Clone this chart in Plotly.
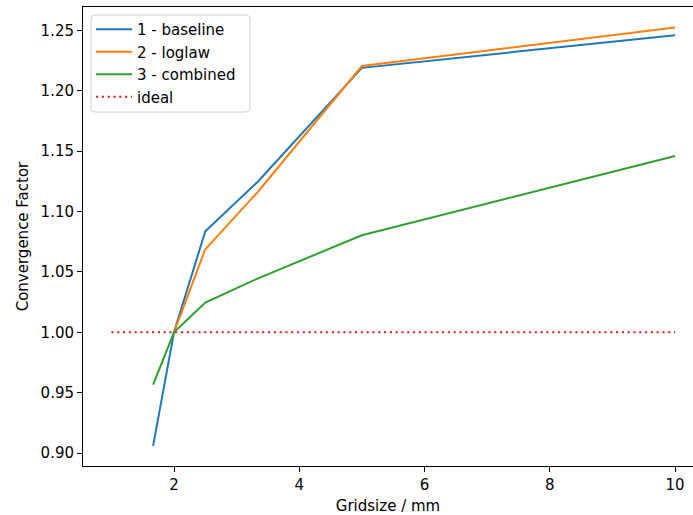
import plotly.graph_objects as go

# Data
grid_baseline = [1.6667, 2.0, 2.5, 3.3333, 5.0, 10.0]
cf_baseline = [0.906, 1.0, 1.0837, 1.1245, 1.219, 1.2461]

grid_loglaw = [2.0, 2.5, 3.3333, 5.0, 10.0]
cf_loglaw = [1.0, 1.0688, 1.116, 1.2205, 1.2525]

grid_combined = [1.6667, 2.0, 2.5, 3.3333, 5.0, 10.0]
cf_combined = [0.9566, 1.0, 1.0247, 1.0445, 1.0804, 1.146]

grid_ideal = [1.0, 10.0]
cf_ideal = [1.0, 1.0]

names = ["1 - baseline", "2 - loglaw", "3 - combined", "ideal"]
colors = ["#1f77b4", "#ff7f0e", "#2ca02c", "#d62728"]

y_ticks = [0.90, 0.95, 1.00, 1.05, 1.10, 1.15, 1.20, 1.25]
x_ticks = [2, 4, 6, 8, 10]

FONT = "DejaVu Sans"
FS = 15

# plot area geometry (pixels)
PL, PT, PW, PH = 83, 7, 610, 459


def px_x(p):
    return (p - PL) / PW


def px_y(p):
    return (PT + PH - p) / PH


fig = go.Figure()
series = [
    (grid_baseline, cf_baseline, "solid"),
    (grid_loglaw, cf_loglaw, "solid"),
    (grid_combined, cf_combined, "solid"),
    (grid_ideal, cf_ideal, "2.2px,3.6px"),
]
for i, ((xs, ys, dash), name, c) in enumerate(zip(series, names, colors)):
    fig.add_trace(go.Scatter(
        x=xs, y=ys, mode="lines", name=name, legendgroup=f"g{i}",
        line=dict(color=c, width=2, dash=dash),
    ))

# legend frame (rounded box like matplotlib)
x0, x1, y0, y1, r = 91, 250, 15, 112, 4
path = (
    f"M {px_x(x0 + r)},{px_y(y0)} L {px_x(x1 - r)},{px_y(y0)} "
    f"Q {px_x(x1)},{px_y(y0)} {px_x(x1)},{px_y(y0 + r)} "
    f"L {px_x(x1)},{px_y(y1 - r)} Q {px_x(x1)},{px_y(y1)} {px_x(x1 - r)},{px_y(y1)} "
    f"L {px_x(x0 + r)},{px_y(y1)} Q {px_x(x0)},{px_y(y1)} {px_x(x0)},{px_y(y1 - r)} "
    f"L {px_x(x0)},{px_y(y0 + r)} Q {px_x(x0)},{px_y(y0)} {px_x(x0 + r)},{px_y(y0)} Z"
)
fig.add_shape(type="path", path=path, xref="paper", yref="paper", layer="above",
              fillcolor="rgba(255,255,255,0.8)", line=dict(color="#d0d0d0", width=1))

fig.update_layout(
    width=693, height=515,
    margin=dict(l=PL, r=0, t=PT, b=515 - PT - PH),
    paper_bgcolor="white", plot_bgcolor="white",
    font=dict(family=FONT, size=FS, color="black"),
    showlegend=True,
    legend=dict(
        x=px_x(91), y=px_y(13), xanchor="left", yanchor="top",
        bgcolor="rgba(0,0,0,0)", borderwidth=0,
        font=dict(family=FONT, size=FS, color="black"),
        tracegroupgap=0, itemwidth=36,
    ),
    xaxis=dict(
        range=[0.547, 10.287], tickvals=x_ticks, ticktext=[str(v) for v in x_ticks],
        showgrid=False, zeroline=False,
        showline=True, linecolor="black", linewidth=1, mirror=True,
        ticks="outside", ticklen=5, tickwidth=1, tickcolor="black",
        tickfont=dict(family=FONT, size=FS),
        title=dict(text="Gridsize / mm", font=dict(family=FONT, size=FS), standoff=8),
    ),
    yaxis=dict(
        range=[0.8893, 1.2694], tickvals=y_ticks, ticktext=[f"{v:.2f}" for v in y_ticks],
        showgrid=False, zeroline=False,
        showline=True, linecolor="black", linewidth=1, mirror=False,
        ticks="outside", ticklen=5, tickwidth=1, tickcolor="black",
        tickfont=dict(family=FONT, size=FS),
        title=dict(text="Convergence Factor", font=dict(family=FONT, size=FS), standoff=8),
    ),
)

fig.write_html("out.html", config={"displayModeBar": False},
               post_script="document.body.style.margin='0';document.body.style.padding='0';")
